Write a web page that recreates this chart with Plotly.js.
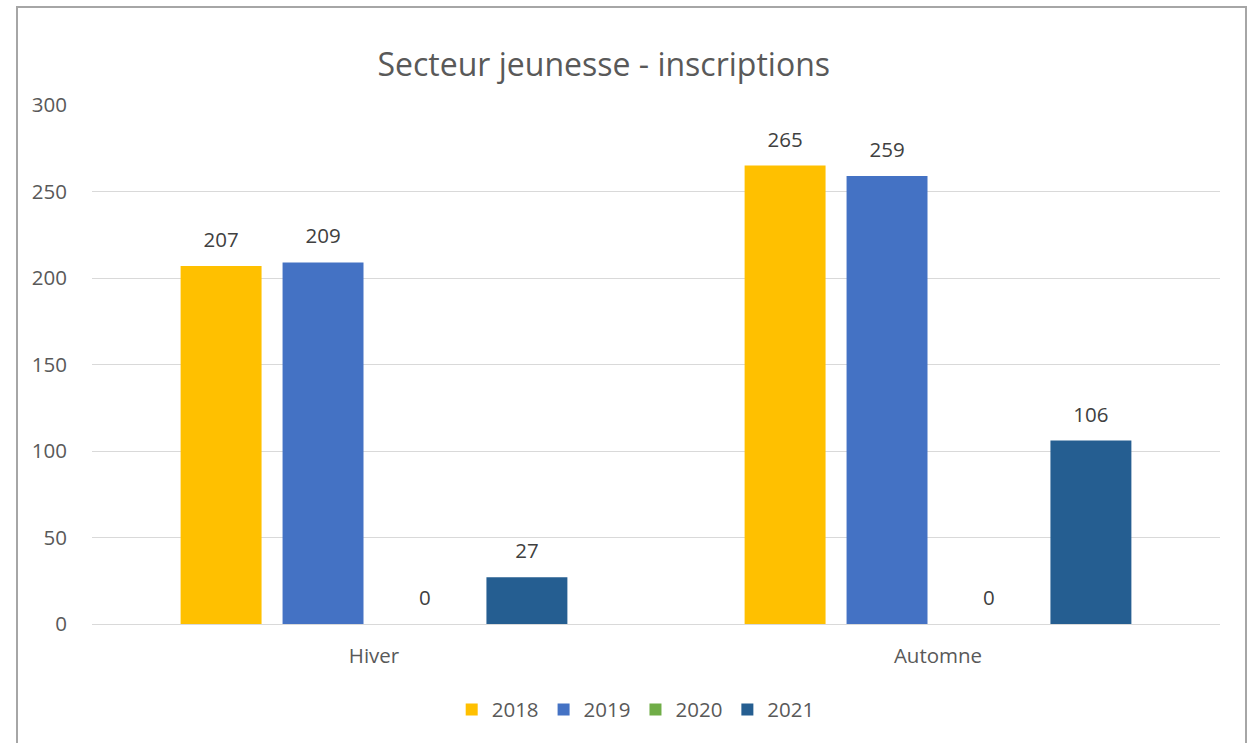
<!DOCTYPE html>
<html><head><meta charset="utf-8">
<script src="https://cdn.plot.ly/plotly-3.0.1.min.js"></script>
<style>body{margin:0;background:#fff}#wrap{position:relative;width:1250px;height:743px;overflow:hidden}
#frame{position:absolute;left:16px;top:6px;width:1231px;height:800px;border:2px solid #a6a6a6;box-sizing:border-box;pointer-events:none}
#chart{position:absolute;left:0;top:0;width:1250px;height:743px}</style>
</head><body><div id="wrap"><div id="chart"></div><div id="frame"></div></div>
<script>
const categories = ["Hiver", "Automne"];
const seriesNames = ["2018", "2019", "2020", "2021"];
const values2018 = [207, 265];
const values2019 = [209, 259];
const values2020 = [0, 0];
const values2021 = [27, 106];
const colors = ["#FFC000", "#4472C4", "#70AD47", "#255E91"];
const allValues = [values2018, values2019, values2020, values2021];
const font = "Open Sans, Noto Sans, sans-serif";
const labelLift = 5.8; // axis units the label axis is shifted, to lift data labels
const traces = allValues.map((v, i) => ({
  type: "bar", name: seriesNames[i], x: categories, y: v,
  marker: {color: colors[i]}, hoverinfo: "skip"
}));
const labelTraces = allValues.map((v, i) => ({
  type: "bar", name: seriesNames[i] + " labels", x: categories, y: v, yaxis: "y2",
  marker: {color: "rgba(0,0,0,0)"}, showlegend: false, hoverinfo: "skip",
  text: v.map(String), textposition: "outside", cliponaxis: false,
  textfont: {family: font, size: 20.5, color: "#404040"}
}));
const layout = {
  width: 1250, height: 743,
  margin: {l: 92, r: 30, t: 105, b: 119},
  paper_bgcolor: "rgba(0,0,0,0)", plot_bgcolor: "#fff",
  title: {text: "Secteur jeunesse - inscriptions", font: {family: font, size: 32, color: "#595959"},
          x: 0.483, xanchor: "center", y: 1 - 65/743, yanchor: "middle", yref: "container"},
  barmode: "group", bargap: 0.277, bargroupgap: 0.206,
  xaxis: {tickfont: {family: font, size: 20.5, color: "#595959"}, showgrid: false,
          showline: true, linecolor: "#d9d9d9", linewidth: 1, ticks: "outside", ticklen: 13, tickcolor: "rgba(0,0,0,0)", zeroline: false},
  yaxis: {range: [0, 300], dtick: 50, tick0: 0, tickfont: {family: font, size: 20.5, color: "#595959"},
          gridcolor: "#d9d9d9", gridwidth: 1, zeroline: false, ticks: "outside", ticklen: 20, tickcolor: "rgba(0,0,0,0)", showline: false},
  yaxis2: {overlaying: "y", range: [-labelLift, 300 - labelLift], visible: false, showgrid: false, zeroline: false},
  showlegend: true,
  legend: {orientation: "h", x: 0.482, xanchor: "center", y: -0.165, yanchor: "middle",
           font: {family: font, size: 20.5, color: "#595959"}, itemwidth: 30, traceorder: "normal"}
};
Plotly.newPlot("chart", traces.concat(labelTraces), layout, {displayModeBar: false, staticPlot: true});
</script></body></html>
